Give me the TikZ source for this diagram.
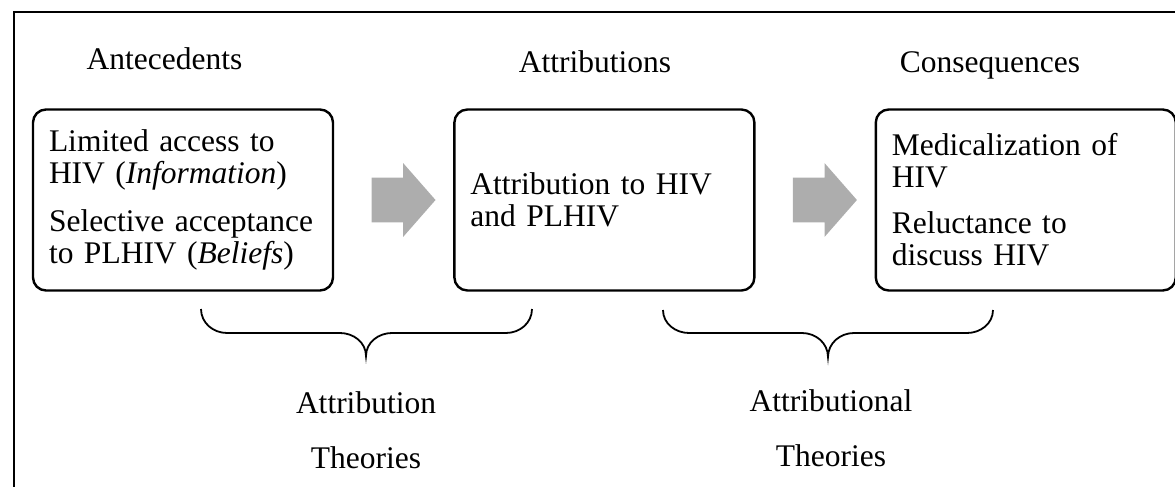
\documentclass[tikz,border=0pt]{standalone}
\usepackage{fontspec}
\setmainfont{Liberation Serif}
\usetikzlibrary{positioning,calc,shapes.arrows}
\definecolor{arrowgray}{RGB}{173,173,173}

\begin{document}
\begin{tikzpicture}[
  x=0.5pt,y=-0.5pt,
  node distance=59.5pt,
  every node/.style={font=\fontsize{15.75}{16}\selectfont},
  stagebox/.style={draw,line width=1.2pt,rounded corners=6.5pt,minimum height=90.5pt,text width=134pt,inner xsep=8pt,align=left},
  blockarrow/.style={single arrow,fill=arrowgray,draw=none,inner xsep=0pt,inner ysep=11pt,minimum height=32pt,single arrow head extend=7.25pt,single arrow tip angle=97.5},
  brace/.style={line width=0.9pt},
  theory/.style={align=center,anchor=base}
]
\useasboundingbox (0,0) rectangle (1175,487);
\clip (0,0) rectangle (1175,487);
% frame, cut off at right and bottom
\draw[line width=0.9pt] (14,500) -- (14,12) -- (1190,12);

% column heads
\node[anchor=base] (antehead) at (164.5,69) {Antecedents};
\node[anchor=base] (attrhead) at (595,72) {Attributions};
\node[anchor=base] (conshead) at (990,72) {Consequences};

% the three stages
\node[stagebox] (ante) at (183,200) {Limited access to\\HIV (\textit{Information})\\[8pt]Selective acceptance\\to PLHIV (\textit{Beliefs})};
\node[stagebox,right=of ante] (attr) {Attribution to HIV\\and PLHIV};
\node[stagebox,right=of attr] (cons) {Medicalization of\\HIV\\[7pt]Reluctance to\\discuss HIV};

% block arrows
\node[blockarrow] (arrA) at ($(ante.east)!0.5!(attr.west)$) {};
\node[blockarrow] (arrB) at ($(attr.east)!0.5!(cons.west)$) {};

% braces
\draw[brace] (201,309) to[out=-90,in=180] (227,333) -- (340,333) to[out=0,in=90] (366,356)
  to[out=90,in=180] (392,333) -- (506,333) to[out=0,in=-90] (532,309);
\draw[brace] (663,310) to[out=-90,in=180] (689,333) -- (802,333) to[out=0,in=90] (828,357)
  to[out=90,in=180] (854,333) -- (967,333) to[out=0,in=-90] (993,310);

% theory labels (base = last line)
\node[theory] (attrth) at (366,468) {Attribution\\[11.5pt]Theories};
\node[theory] (attrnlth) at (831,466) {Attributional\\[11.5pt]Theories};
\end{tikzpicture}
\end{document}
